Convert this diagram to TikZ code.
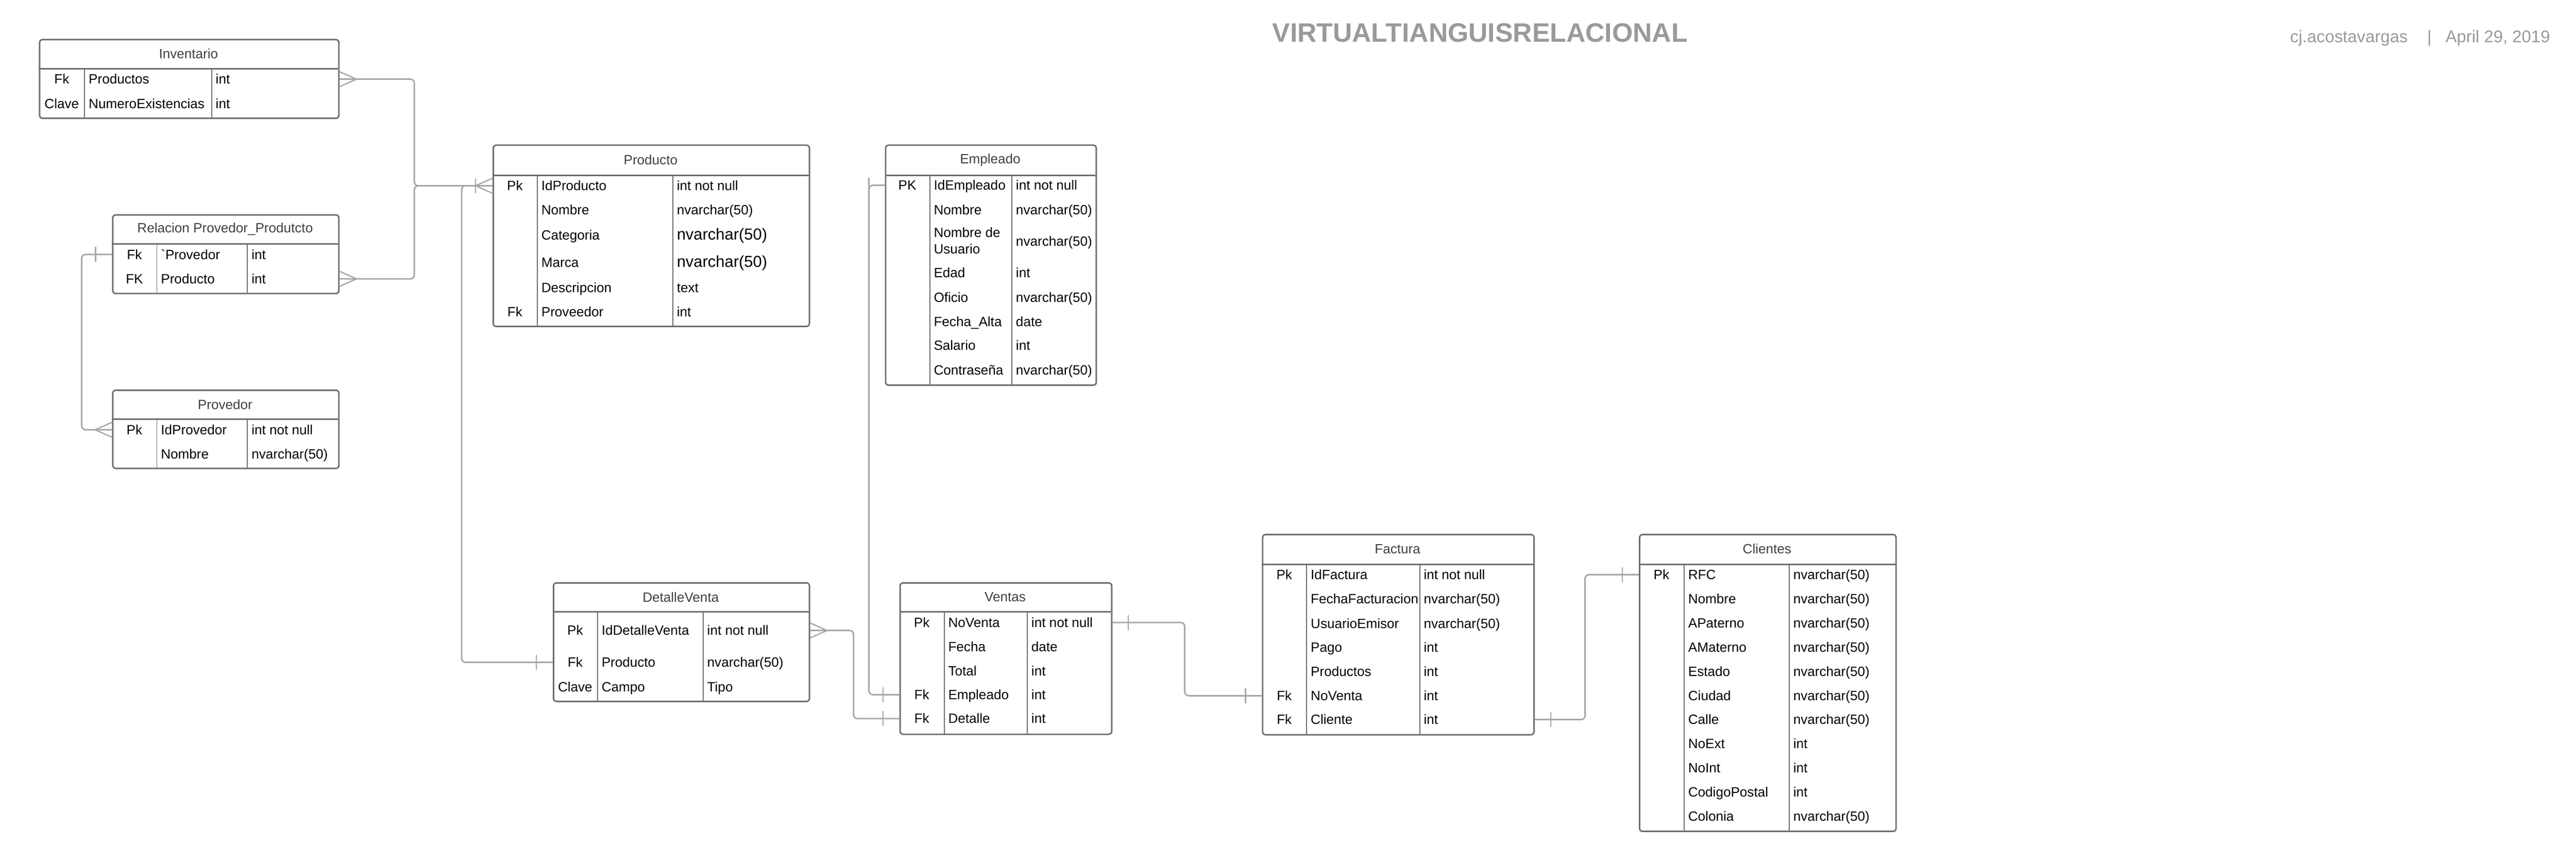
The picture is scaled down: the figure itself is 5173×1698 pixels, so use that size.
\documentclass[tikz,border=0pt]{standalone}
\usepackage{fontspec}
\setmainfont{Liberation Sans}
\usepackage{xcolor}
\usepackage{tikz}

\definecolor{boxgray}{HTML}{6E6E6E}
\definecolor{linegray}{HTML}{A6A6A6}
\definecolor{titlegray}{HTML}{404040}
\definecolor{headgray}{HTML}{9A9A9A}
\newcommand{\fieldsize}{\fontsize{27}{33}\selectfont}
\newcommand{\bigfield}{\fontsize{32}{38}\selectfont}

\tikzset{
  tbl/.style={draw=boxgray, line width=3pt, rounded corners=6pt, fill=white, anchor=north west, inner sep=0pt},
  headline/.style={draw=boxgray, line width=3pt},
  colline/.style={draw=boxgray, line width=2pt},
  ttl/.style={font=\fieldsize, text=titlegray, inner sep=0pt},
  keycell/.style={font=\fieldsize, inner sep=0pt, text height=19pt, text depth=0pt},
  fldcell/.style={font=\fieldsize, inner sep=0pt, anchor=west, text height=19pt, text depth=0pt},
  relline/.style={draw=linegray, line width=3pt, rounded corners=8pt},
  crow/.style={draw=linegray, line width=2.5pt}
}

\begin{document}
\begin{tikzpicture}[x=1pt, y=-1pt]
  \useasboundingbox (0,0) rectangle (5173,1698);

  % header
  \node[font=\bfseries\fontsize{53.5}{60}\selectfont, text=headgray, anchor=base, inner sep=0pt] (title) at (2972,84) {VIRTUALTIANGUISRELACIONAL};
  \node[font=\fontsize{34}{40}\selectfont, text=headgray, anchor=base east, inner sep=0pt] (author) at (5121,85) {cj.acostavargas\hspace{39pt}|\hspace{28pt}April 29, 2019};

  % Inventario
  \node[tbl, minimum width=601pt, minimum height=158pt] (inv) at (78,78) {};
  \draw[headline] (78,138) -- (679,138);
  \draw[colline] (170,138) -- (170,236);
  \draw[colline] (425,138) -- (425,236);
  \node[ttl] (inv-t) at (378.5,108) {Inventario};
  \node[keycell] (inv-k1) at (124,159) {Fk};
  \node[fldcell] (inv-n1) at (178,159) {Productos};
  \node[fldcell] (inv-t1) at (433,159) {int};
  \node[keycell] (inv-k2) at (124,208) {Clave};
  \node[fldcell] (inv-n2) at (178,208) {NumeroExistencias};
  \node[fldcell] (inv-t2) at (433,208) {int};

  % Relacion Provedor_Produtcto
  \node[tbl, minimum width=454pt, minimum height=158pt] (relpp) at (225,430) {};
  \draw[headline] (225,490) -- (679,490);
  \draw[colline] (315,490) -- (315,588);
  \draw[colline] (497,490) -- (497,588);
  \node[ttl] (relpp-t) at (452,460) {Relacion Provedor\_Produtcto};
  \node[keycell] (relpp-k1) at (270,511) {Fk};
  \node[fldcell] (relpp-n1) at (323,511) {\textasciigrave Provedor};
  \node[fldcell] (relpp-t1) at (505,511) {int};
  \node[keycell] (relpp-k2) at (270,560) {FK};
  \node[fldcell] (relpp-n2) at (323,560) {Producto};
  \node[fldcell] (relpp-t2) at (505,560) {int};

  % Provedor
  \node[tbl, minimum width=454pt, minimum height=157pt] (prov) at (225,782) {};
  \draw[headline] (225,842) -- (679,842);
  \draw[colline] (315,842) -- (315,939);
  \draw[colline] (497,842) -- (497,939);
  \node[ttl] (prov-t) at (452,812) {Provedor};
  \node[keycell] (prov-k1) at (270,863) {Pk};
  \node[fldcell] (prov-n1) at (323,863) {IdProvedor};
  \node[fldcell] (prov-t1) at (505,863) {int not null};
  \node[fldcell] (prov-n2) at (323,912) {Nombre};
  \node[fldcell] (prov-t2) at (505,912) {nvarchar(50)};

  % Producto
  \node[tbl, minimum width=635pt, minimum height=364pt] (prod) at (989,290) {};
  \draw[headline] (989,352) -- (1624,352);
  \draw[colline] (1079,352) -- (1079,654);
  \draw[colline] (1351,352) -- (1351,654);
  \node[ttl] (prod-t) at (1306.5,321) {Producto};
  \node[keycell] (prod-k1) at (1034,373) {Pk};
  \node[fldcell] (prod-n1) at (1087,373) {IdProducto};
  \node[fldcell] (prod-t1) at (1359,373) {int not null};
  \node[fldcell] (prod-n2) at (1087,421) {Nombre};
  \node[fldcell] (prod-t2) at (1359,421) {nvarchar(50)};
  \node[fldcell] (prod-n3) at (1087,472) {Categoria};
  \node[fldcell, font=\bigfield] (prod-t3) at (1359,472) {nvarchar(50)};
  \node[fldcell] (prod-n4) at (1087,527) {Marca};
  \node[fldcell, font=\bigfield] (prod-t4) at (1359,527) {nvarchar(50)};
  \node[fldcell] (prod-n5) at (1087,578) {Descripcion};
  \node[fldcell] (prod-t5) at (1359,578) {text};
  \node[keycell] (prod-k6) at (1034,626) {Fk};
  \node[fldcell] (prod-n6) at (1087,626) {Proveedor};
  \node[fldcell] (prod-t6) at (1359,626) {int};

  % Empleado
  \node[tbl, minimum width=423pt, minimum height=482pt] (emp) at (1777,290) {};
  \draw[headline] (1777,352) -- (2200,352);
  \draw[colline] (1867,352) -- (1867,772);
  \draw[colline] (2032,352) -- (2032,772);
  \node[ttl] (emp-t) at (1988.5,321) {Empleado};
  \node[keycell] (emp-k1) at (1822,372) {PK};
  \node[fldcell] (emp-n1) at (1875,372) {IdEmpleado};
  \node[fldcell] (emp-t1) at (2040,372) {int not null};
  \node[fldcell] (emp-n2) at (1875,421) {Nombre};
  \node[fldcell] (emp-t2) at (2040,421) {nvarchar(50)};
  \node[font=\fieldsize, inner sep=0pt, anchor=north west, align=left] (emp-n3) at (1875,457) {Nombre de\\Usuario};
  \node[fldcell] (emp-t3) at (2040,484) {nvarchar(50)};
  \node[fldcell] (emp-n4) at (1875,548) {Edad};
  \node[fldcell] (emp-t4) at (2040,548) {int};
  \node[fldcell] (emp-n5) at (1875,597) {Oficio};
  \node[fldcell] (emp-t5) at (2040,597) {nvarchar(50)};
  \node[fldcell] (emp-n6) at (1875,646) {Fecha\_Alta};
  \node[fldcell] (emp-t6) at (2040,646) {date};
  \node[fldcell] (emp-n7) at (1875,694) {Salario};
  \node[fldcell] (emp-t7) at (2040,694) {int};
  \node[fldcell] (emp-n8) at (1875,743) {Contraseña};
  \node[fldcell] (emp-t8) at (2040,743) {nvarchar(50)};

  % DetalleVenta
  \node[tbl, minimum width=514pt, minimum height=238pt] (dv) at (1110,1169) {};
  \draw[headline] (1110,1229) -- (1624,1229);
  \draw[colline] (1200,1229) -- (1200,1407);
  \draw[colline] (1412,1229) -- (1412,1407);
  \node[ttl] (dv-t) at (1367,1199) {DetalleVenta};
  \node[keycell] (dv-k1) at (1155,1266) {Pk};
  \node[fldcell] (dv-n1) at (1208,1266) {IdDetalleVenta};
  \node[fldcell] (dv-t1) at (1420,1266) {int not null};
  \node[keycell] (dv-k2) at (1155,1330) {Fk};
  \node[fldcell] (dv-n2) at (1208,1330) {Producto};
  \node[fldcell] (dv-t2) at (1420,1330) {nvarchar(50)};
  \node[keycell] (dv-k3) at (1155,1379) {Clave};
  \node[fldcell] (dv-n3) at (1208,1379) {Campo};
  \node[fldcell] (dv-t3) at (1420,1379) {Tipo};

  % Ventas
  \node[tbl, minimum width=425pt, minimum height=304pt] (ven) at (1806,1169) {};
  \draw[headline] (1806,1229) -- (2231,1229);
  \draw[colline] (1896,1229) -- (1896,1473);
  \draw[colline] (2063,1229) -- (2063,1473);
  \node[ttl] (ven-t) at (2018.5,1199) {Ventas};
  \node[keycell] (ven-k1) at (1851,1250) {Pk};
  \node[fldcell] (ven-n1) at (1904,1250) {NoVenta};
  \node[fldcell] (ven-t1) at (2071,1250) {int not null};
  \node[fldcell] (ven-n2) at (1904,1299) {Fecha};
  \node[fldcell] (ven-t2) at (2071,1299) {date};
  \node[fldcell] (ven-n3) at (1904,1347) {Total};
  \node[fldcell] (ven-t3) at (2071,1347) {int};
  \node[keycell] (ven-k4) at (1851,1395) {Fk};
  \node[fldcell] (ven-n4) at (1904,1395) {Empleado};
  \node[fldcell] (ven-t4) at (2071,1395) {int};
  \node[keycell] (ven-k5) at (1851,1443) {Fk};
  \node[fldcell] (ven-n5) at (1904,1443) {Detalle};
  \node[fldcell] (ven-t5) at (2071,1443) {int};

  % Factura
  \node[tbl, minimum width=545pt, minimum height=402pt] (fac) at (2534,1072) {};
  \draw[headline] (2534,1133) -- (3079,1133);
  \draw[colline] (2624,1133) -- (2624,1474);
  \draw[colline] (2851,1133) -- (2851,1474);
  \node[ttl] (fac-t) at (2806.5,1102.5) {Factura};
  \node[keycell] (fac-k1) at (2579,1154) {Pk};
  \node[fldcell] (fac-n1) at (2632,1154) {IdFactura};
  \node[fldcell] (fac-t1) at (2859,1154) {int not null};
  \node[fldcell] (fac-n2) at (2632,1203) {FechaFacturacion};
  \node[fldcell] (fac-t2) at (2859,1203) {nvarchar(50)};
  \node[fldcell] (fac-n3) at (2632,1252) {UsuarioEmisor};
  \node[fldcell] (fac-t3) at (2859,1252) {nvarchar(50)};
  \node[fldcell] (fac-n4) at (2632,1300) {Pago};
  \node[fldcell] (fac-t4) at (2859,1300) {int};
  \node[fldcell] (fac-n5) at (2632,1348) {Productos};
  \node[fldcell] (fac-t5) at (2859,1348) {int};
  \node[keycell] (fac-k6) at (2579,1397) {Fk};
  \node[fldcell] (fac-n6) at (2632,1397) {NoVenta};
  \node[fldcell] (fac-t6) at (2859,1397) {int};
  \node[keycell] (fac-k7) at (2579,1445) {Fk};
  \node[fldcell] (fac-n7) at (2632,1445) {Cliente};
  \node[fldcell] (fac-t7) at (2859,1445) {int};

  % Clientes
  \node[tbl, minimum width=515pt, minimum height=596pt] (cli) at (3291,1072) {};
  \draw[headline] (3291,1133) -- (3806,1133);
  \draw[colline] (3382,1133) -- (3382,1668);
  \draw[colline] (3593,1133) -- (3593,1668);
  \node[ttl] (cli-t) at (3548.5,1102.5) {Clientes};
  \node[keycell] (cli-k1) at (3336.5,1154) {Pk};
  \node[fldcell] (cli-n1) at (3390,1154) {RFC};
  \node[fldcell] (cli-t1) at (3601,1154) {nvarchar(50)};
  \node[fldcell] (cli-n2) at (3390,1202.5) {Nombre};
  \node[fldcell] (cli-t2) at (3601,1202.5) {nvarchar(50)};
  \node[fldcell] (cli-n3) at (3390,1251) {APaterno};
  \node[fldcell] (cli-t3) at (3601,1251) {nvarchar(50)};
  \node[fldcell] (cli-n4) at (3390,1299.5) {AMaterno};
  \node[fldcell] (cli-t4) at (3601,1299.5) {nvarchar(50)};
  \node[fldcell] (cli-n5) at (3390,1348) {Estado};
  \node[fldcell] (cli-t5) at (3601,1348) {nvarchar(50)};
  \node[fldcell] (cli-n6) at (3390,1396.5) {Ciudad};
  \node[fldcell] (cli-t6) at (3601,1396.5) {nvarchar(50)};
  \node[fldcell] (cli-n7) at (3390,1445) {Calle};
  \node[fldcell] (cli-t7) at (3601,1445) {nvarchar(50)};
  \node[fldcell] (cli-n8) at (3390,1493.5) {NoExt};
  \node[fldcell] (cli-t8) at (3601,1493.5) {int};
  \node[fldcell] (cli-n9) at (3390,1542) {NoInt};
  \node[fldcell] (cli-t9) at (3601,1542) {int};
  \node[fldcell] (cli-n10) at (3390,1590.5) {CodigoPostal};
  \node[fldcell] (cli-t10) at (3601,1590.5) {int};
  \node[fldcell] (cli-n11) at (3390,1639) {Colonia};
  \node[fldcell] (cli-t11) at (3601,1639) {nvarchar(50)};

  % relations
  \draw[relline] (inv.east |- inv-k1) -- (832,159) -- (832,373) -- (prod.west |- prod-k1);
  \draw[relline] (relpp.east |- relpp-k2) -- (832,560) -- (832,373) -- (prod.west |- prod-k1);
  \draw[relline] (relpp.west |- relpp-k1) -- (164,511) -- (164,863) -- (prov.west |- prov-k1);
  \draw[relline] (prod.west |- prod-k1) -- (927,373) -- (927,1330) -- (dv.west |- dv-k2);
  \draw[relline] (emp.west |- emp-k1) -- (1745,372) -- (1745,1395) -- (ven.west |- ven-k4);
  \draw[relline] (dv.east |- dv-k1) -- (1714,1266) -- (1714,1443) -- (ven.west |- ven-k5);
  \draw[relline] (ven.east |- ven-k1) -- (2379,1250) -- (2379,1397) -- (fac.west |- fac-k6);
  \draw[relline] (fac.east |- fac-k7) -- (3183,1445) -- (3183,1154) -- (cli.west |- cli-k1);

  % crow's feet and bars
  \draw[crow] (inv.east |- inv-k1) ++(0,-15) -- ++(34,15) -- ++(-34,15);
  \draw[crow] (relpp.east |- relpp-k2) ++(0,-15) -- ++(34,15) -- ++(-34,15);
  \draw[crow] (prod.west |- prod-k1) ++(0,-15) -- ++(-34,15) -- ++(34,15);
  \draw[crow] (prod.west |- prod-k1) ++(-34,-15) -- ++(0,30);
  \draw[crow] (relpp.west |- relpp-k1) ++(-33,-15) -- ++(0,30);
  \draw[crow] (prov.west |- prov-k1) ++(0,-15) -- ++(-34,15) -- ++(34,15);
  \draw[crow] (dv.west |- dv-k2) ++(-33,-15) -- ++(0,30);
  \draw[crow] (emp.west |- emp-k1) ++(-32,-15) -- ++(0,30);
  \draw[crow] (ven.west |- ven-k4) ++(-33,-15) -- ++(0,30);
  \draw[crow] (dv.east |- dv-k1) ++(0,-15) -- ++(34,15) -- ++(-34,15);
  \draw[crow] (ven.west |- ven-k5) ++(-33,-15) -- ++(0,30);
  \draw[crow] (ven.east |- ven-k1) ++(32,-15) -- ++(0,30);
  \draw[crow] (fac.west |- fac-k6) ++(-33,-15) -- ++(0,30);
  \draw[crow] (fac.east |- fac-k7) ++(32,-15) -- ++(0,30);
  \draw[crow] (cli.west |- cli-k1) ++(-33,-15) -- ++(0,30);
\end{tikzpicture}
\end{document}
